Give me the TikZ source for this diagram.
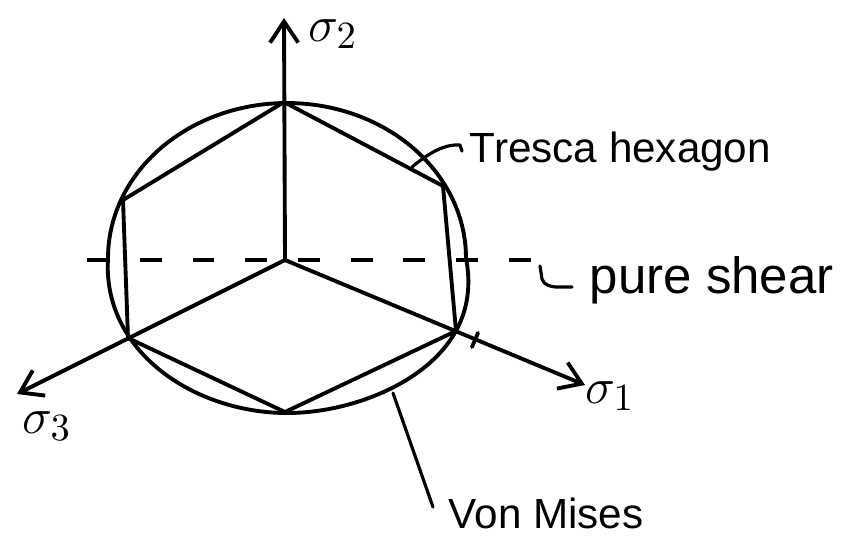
\documentclass[tikz,border=0pt]{standalone}
\usepackage{fontspec}
\setmainfont{Liberation Sans}
\usetikzlibrary{arrows.meta,positioning}

\begin{document}
\begin{tikzpicture}[
x=0.01cm, y=-0.01cm,
line width=1.1pt, line join=round, line cap=round,
every node/.style={inner sep=0pt, font=\fontsize{12}{14}\selectfont},
    axis/.style = {-{Straight Barb[length=6pt,width=8pt]}},
    sig/.style = {font=\fontsize{15}{17}\selectfont},
    note/.style = {anchor=base west},
    leader/.style = {line width=0.9pt}
    ]
\useasboundingbox (0,0) rectangle (851,544);
% hexagon corners and centre
\coordinate (O) at (285,260);
\coordinate (A) at (284,102);
\coordinate (B) at (443,186);
\coordinate (C) at (456,331);
\coordinate (D) at (285,412);
\coordinate (E) at (128,338);
\coordinate (F) at (123,200);

\node (s2) [sig] at (333,34) {$\sigma_2$};
\node (s1) [sig] at (610,396) {$\sigma_1$};
\node (s3) [sig] at (47,426) {$\sigma_3$};
\node (tresca) [note] at (468,162) {Tresca hexagon};
\node (shear) [note, font=\fontsize{14.5}{16}\selectfont] at (588,293) {pure shear};
\node (mises) [note] at (447,528) {Von Mises};

% von Mises circle (hand drawn, a bit wider at the bottom right)
\draw plot[domain=0:360, samples=121, smooth cycle]
    ({287 + (179 + 30*max(0,-sin(\x))*max(0,cos(\x))
               + 10*max(0,-sin(\x))*max(0,-cos(\x)))*cos(\x)},
     {258 - 155*sin(\x)});
% Tresca hexagon
\draw (A) -- (B) -- (C) -- (D) -- (E) -- (F) -- cycle;

% principal stress axes
\coordinate (t2) at (284,18);
\coordinate (t1) at (585,385);
\coordinate (t3) at (17,394);
\path[axis]
    (O) edge (t2)
    (O) edge (t1)
    (O) edge (t3);
\draw (472,347) -- (478,333);

% pure shear line
\draw[line cap=butt, dash pattern=on 6.2pt off 8.8pt] (87,260) -- (553,260);

% leaders
\coordinate (l1) at (412,167);
\coordinate (l2) at (540,266);
\coordinate (l3) at (393,393);
\draw[leader] (l1) .. controls (430,152) and (445,144) .. (460,145) -- (462,151);
\draw[leader] (l2) -- (542,279) .. controls (544,285) and (550,287) .. (558,287) -- (572,287);
\draw[leader] (l3) -- (433,507);
\end{tikzpicture}
\end{document}
